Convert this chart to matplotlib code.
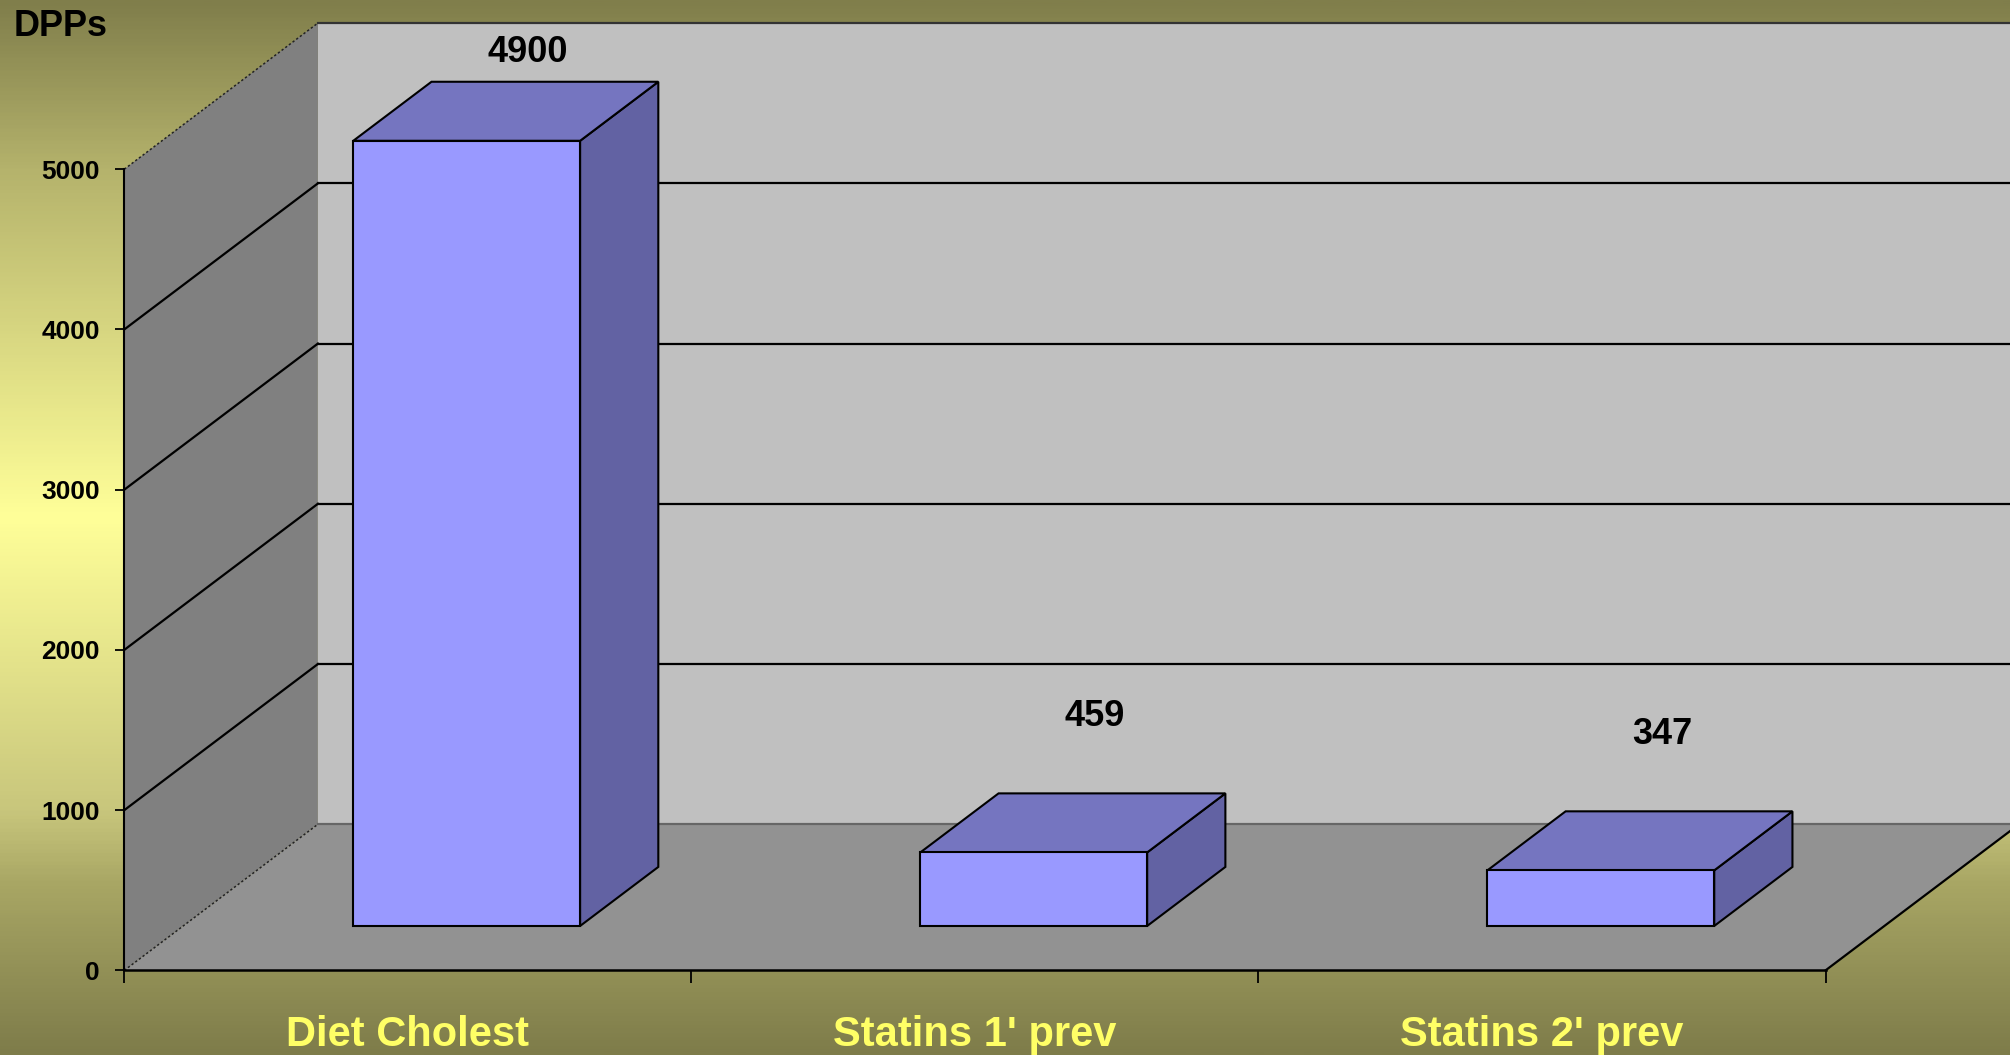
import numpy as np
import matplotlib.pyplot as plt
from matplotlib.patches import Polygon
from matplotlib.colors import LinearSegmentedColormap

categories = ['Diet Cholest', "Statins 1' prev", "Statins 2' prev"]
dpps = [4900, 459, 347]
y_ticks = [0, 1000, 2000, 3000, 4000, 5000]

plt.rcParams['font.family'] = ['Liberation Sans', 'DejaVu Sans']
plt.rcParams['font.weight'] = 'bold'

fig = plt.figure(figsize=(20.1, 10.55), dpi=100)

# background: olive -> pale yellow -> olive
bg = fig.add_axes([0, 0, 1, 1])
cmap = LinearSegmentedColormap.from_list('bg', [(0, '#807e4b'), (0.16, '#b5b36c'), (0.49, '#ffff99'),
                                                (0.77, '#c8c67c'), (0.84, '#a8a664'), (1, '#7e7c4a')])
bg.imshow(np.linspace(0, 1, 600).reshape(-1, 1), aspect='auto', cmap=cmap, extent=[0, 1, 0, 1], origin='upper')
bg.axis('off')

ax = fig.add_axes([124.3 / 2010, (1055 - 970.4) / 1055, 1701.2 / 2010, 801.2 / 1055])
ax.set_xlim(0, 3)
ax.set_ylim(0, max(y_ticks))
ax.patch.set_visible(False)

# oblique depth offset (in category / value units)
DX, DY = 0.3414, 912
top = max(y_ticks)


def P(x, v, d):
    return (x + d * DX, v + d * DY)


def poly(pts, fc, ec='none', z=0.5, lw=1.5):
    ax.add_patch(Polygon(pts, closed=True, fc=fc, ec=ec, lw=lw, clip_on=False, zorder=z))


# walls and floor
poly([P(0, 0, 1), P(3, 0, 1), P(3, top, 1), P(0, top, 1)], '#c0c0c0')
poly([(0, 0), P(0, 0, 1), P(0, top, 1), (0, top)], '#808080')
poly([(0, 0), (3, 0), P(3, 0, 1), P(0, 0, 1)], '#929292')

for v in y_ticks[1:]:
    ax.plot([DX, 3 + DX], [v + DY] * 2, color='black' if v < top else '#333333', lw=1.6, clip_on=False, zorder=1)
ax.plot([DX, 3 + DX], [DY, DY], color='#666666', lw=1.6, clip_on=False, zorder=1)
for v in y_ticks:
    if v in (0, top):
        ax.plot([0, DX], [v, v + DY], color='#222222', lw=1.1, ls=(0, (1.5, 1.5)), clip_on=False, zorder=1)
    else:
        ax.plot([0, DX], [v, v + DY], color='black', lw=1.6, clip_on=False, zorder=1)
ax.plot([3, 3 + DX], [0, DY], color='black', lw=1.6, clip_on=False, zorder=1)

# 3d bars
d0, d1 = 0.304, 0.708
for i, v in enumerate(dpps):
    x0, x1 = i + 0.3, i + 0.7
    poly([P(x1, 0, d0), P(x1, 0, d1), P(x1, v, d1), P(x1, v, d0)], '#6262a3', 'black', 2)
    poly([P(x0, v, d0), P(x1, v, d0), P(x1, v, d1), P(x0, v, d1)], '#7575c0', 'black', 2)
    poly([P(x0, 0, d0), P(x1, 0, d0), P(x1, v, d0), P(x0, v, d0)], '#9999ff', 'black', 2.1)
    lx, ly = P(i + 0.5, min(v + 560, 5160), 0.62)
    ax.text(lx, ly, str(v), ha='center', va='center', fontsize=26, fontweight='bold', color='black')

for s in ['top', 'right']:
    ax.spines[s].set_visible(False)
ax.spines['left'].set_bounds(0, top)
ax.spines['bottom'].set_bounds(0, 3)
ax.spines['left'].set_linewidth(1.5)
ax.spines['bottom'].set_linewidth(1.8)

ax.set_yticks(y_ticks)
ax.set_yticklabels([str(t) for t in y_ticks])
ax.tick_params(axis='y', length=6.5, width=1.3, labelsize=19, pad=11)
ax.set_xticks([0, 1, 2, 3])
ax.set_xticklabels([])
ax.tick_params(axis='x', which='major', length=9, width=1.3)
ax.set_xticks([0.5, 1.5, 2.5], minor=True)
ax.set_xticklabels(categories, minor=True)
ax.tick_params(axis='x', which='minor', length=0, labelsize=30, labelcolor='#ffff66', pad=32)

fig.text(61 / 2010, 1 - 26 / 1055, 'DPPs', ha='center', va='center', fontsize=26, fontweight='bold')

fig.savefig('out.png', dpi=100)
